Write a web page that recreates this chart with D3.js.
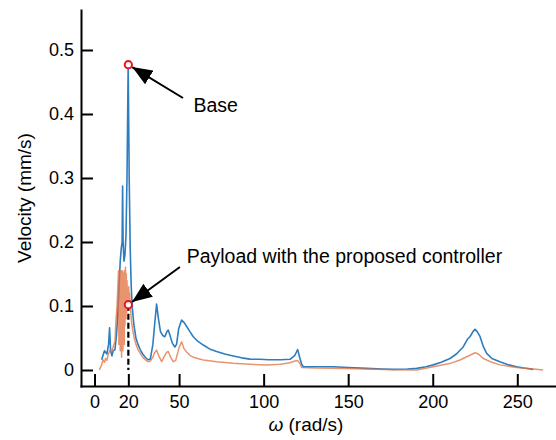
<html>
  <head>
    <title>Velocity spectrum</title>
    <meta charset="utf-8" />
    <script src="https://cdnjs.cloudflare.com/ajax/libs/d3/7.6.1/d3.min.js"></script>
    <style>
      body { margin: 0; background: #fff; }
      svg { font-family: "Liberation Sans", Arial, Helvetica, sans-serif; }
    </style>
  </head>
  <body>
    <svg width="556" height="440"></svg>
  </body>

  <script>
    // Base (blue)
    let omegaBase = [4.2, 5.9, 7.3, 8.3, 8.9, 9.5, 10.3, 11.0, 12.1, 13.0, 13.8, 14.5, 15.2, 15.8, 16.3, 16.6, 16.9,
      17.4, 18.0, 18.6, 19.2, 19.9, 20.5, 21.1, 21.7, 22.4, 23.3, 24.5, 25.7, 27.0, 28.5, 30.0, 31.5, 33.0, 34.5,
      35.5, 36.7, 37.8, 39.0, 40.3, 41.6, 42.8, 43.6, 44.5, 46.0, 47.5, 48.5, 49.8, 51.5, 53.0, 54.5, 56.4, 58.4,
      61, 64.3, 68, 72.2, 77, 82, 87, 91.9, 97.8, 103, 110, 115.6, 118.5, 120.1, 121.3, 122.5, 123.5, 130, 141.2,
      150, 160.9, 170, 176.6, 185, 190.5, 196, 200.3, 205, 210.2, 214, 218, 220.5, 222, 223.8, 225, 226.3, 228,
      230, 231.9, 235, 239.7, 245, 249.6, 254, 259.4];
    let velBase = [0.016, 0.030, 0.025, 0.040, 0.066, 0.030, 0.022, 0.030, 0.032, 0.055, 0.09, 0.13, 0.17, 0.19, 0.2,
      0.2875, 0.2, 0.17, 0.18, 0.21, 0.30, 0.477, 0.30, 0.19, 0.13, 0.095, 0.07, 0.05, 0.04, 0.032, 0.025, 0.02,
      0.016, 0.017, 0.04, 0.07, 0.103, 0.08, 0.06, 0.054, 0.052, 0.06, 0.0625, 0.055, 0.042, 0.036, 0.04, 0.065,
      0.078, 0.074, 0.068, 0.06, 0.052, 0.045, 0.039, 0.033, 0.029, 0.025, 0.022, 0.019, 0.017, 0.0167, 0.016,
      0.016, 0.0167, 0.023, 0.032, 0.02, 0.009, 0.005, 0.005, 0.005, 0.004, 0.0026, 0.0015, 0.001, 0.0015, 0.0026,
      0.005, 0.008, 0.012, 0.018, 0.025, 0.036, 0.048, 0.052, 0.06, 0.0635, 0.06, 0.052, 0.036, 0.026, 0.018,
      0.013, 0.008, 0.005, 0.003, 0.001];

    // Payload with the proposed controller (orange)
    let omegaPayload = [2.8, 4.2, 5.0, 5.9, 6.5, 7.3, 8.2, 9.1, 10.0, 10.9, 12.1, 12.7, 13.3, 13.8, 14.2, 14.4, 14.6,
      14.8, 15.0, 15.2, 15.4, 15.6, 15.8, 16.0, 16.2, 16.4, 16.6, 16.8, 17.0, 17.2, 17.4, 17.6, 17.8, 18.0, 18.3,
      18.6, 18.8, 19.0, 19.2, 19.5, 19.9, 20.2, 20.5, 20.8, 21.2, 21.7, 22.4, 23.3, 24.5, 25.7, 27, 28.5, 30, 31.5,
      33, 34.5, 35.5, 36.7, 38, 39.7, 41, 42.5, 43.6, 45, 46.5, 48, 50, 51.5, 53, 54.5, 56.4, 58.4, 61, 64.3, 72.2,
      82, 91.9, 101.8, 110, 115.6, 118.5, 120.1, 121.5, 122.5, 130, 141.2, 160.9, 176.6, 190.5, 200.3, 210, 216.1,
      222, 225, 227, 229.9, 235, 239.7, 249.6, 259.4, 265.3];
    let velPayload = [0.0, 0.008, 0.016, 0.012, 0.018, 0.015, 0.025, 0.031, 0.028, 0.035, 0.045, 0.078, 0.10, 0.13,
      0.155, 0.04, 0.15, 0.05, 0.155, 0.03, 0.152, 0.06, 0.155, 0.02, 0.15, 0.05, 0.155, 0.03, 0.15, 0.06, 0.152,
      0.04, 0.155, 0.07, 0.161, 0.08, 0.15, 0.09, 0.14, 0.10, 0.102, 0.13, 0.11, 0.12, 0.10, 0.08, 0.065, 0.052,
      0.04, 0.032, 0.026, 0.02, 0.016, 0.013, 0.014, 0.02, 0.027, 0.031, 0.022, 0.013, 0.02, 0.027, 0.029, 0.02,
      0.013, 0.015, 0.035, 0.044, 0.033, 0.028, 0.023, 0.02, 0.018, 0.0156, 0.013, 0.0104, 0.009, 0.0078, 0.009,
      0.0114, 0.014, 0.015, 0.01, 0.004, 0.003, 0.0026, 0.0015, 0.0005, 0.0, 0.005, 0.01, 0.0156, 0.023, 0.027,
      0.025, 0.018, 0.012, 0.008, 0.004, 0.0016, 0.0];

    let xTicks = [0, 20, 50, 100, 150, 200, 250];
    let yTicks = [0, 0.1, 0.2, 0.3, 0.4, 0.5];

    // annotations: marked point, arrow tail and label position (data units)
    let noteLabels = ["Base", "Payload with the proposed controller"];
    let noteOmega = [20, 20];
    let noteVel = [0.477, 0.102];
    let tailOmega = [52.3, 50.5];
    let tailVel = [0.425, 0.161];
    let textOmega = [58.5, 54.5];
    let textVel = [0.4036, 0.1667];

    let svg = d3.select("svg");
    let xScale = d3.scaleLinear().domain([-8, 272.3]).range([81, 555]);
    let yScale = d3.scaleLinear().domain([-0.025, 0.5625]).range([386, 10]);

    svg.append("defs").append("marker")
      .attr("id", "head")
      .attr("viewBox", "0 0 20 16")
      .attr("refX", 20).attr("refY", 8)
      .attr("markerWidth", 20).attr("markerHeight", 16)
      .attr("markerUnits", "userSpaceOnUse")
      .attr("orient", "auto")
      .append("path").attr("d", "M0,0L20,8L0,16Z").attr("fill", "black");

    let line = d3.line().x((d) => xScale(d[0])).y((d) => yScale(d[1]));

    svg.append("path")
      .datum(d3.zip(omegaBase, velBase))
      .attr("d", line)
      .attr("fill", "none")
      .attr("stroke", "#2d7dbf")
      .attr("stroke-width", 1.6)
      .attr("stroke-linejoin", "round");

    svg.append("path")
      .datum(d3.zip(omegaPayload, velPayload))
      .attr("d", line)
      .attr("fill", "none")
      .attr("stroke", "#e2703d")
      .attr("stroke-opacity", 0.75)
      .attr("stroke-width", 1.5)
      .attr("stroke-linejoin", "round");

    // dashed drop line at the payload point
    svg.append("line")
      .attr("x1", xScale(noteOmega[1])).attr("x2", xScale(noteOmega[1]))
      .attr("y1", yScale(noteVel[1])).attr("y2", yScale(0))
      .attr("stroke", "black")
      .attr("stroke-width", 2.2)
      .attr("stroke-dasharray", "6,3");

    let xAxis = d3.axisBottom(xScale).tickValues(xTicks).tickSizeInner(-12).tickSizeOuter(0).tickPadding(9);
    let yAxis = d3.axisLeft(yScale).tickValues(yTicks).tickSizeInner(-12).tickSizeOuter(0).tickPadding(7)
      .tickFormat((d) => (d === 0 ? "0" : d3.format(".1f")(d)));

    let gx = svg.append("g").attr("transform", `translate(0,${yScale.range()[0]})`).call(xAxis);
    let gy = svg.append("g").attr("transform", `translate(${xScale.range()[0]},0)`).call(yAxis);
    [gx, gy].forEach((g) => {
      g.select(".domain").attr("stroke-width", 2).attr("stroke-linecap", "square");
      g.selectAll(".tick line").attr("stroke-width", 2);
      g.selectAll(".tick text").attr("font-size", 18).attr("fill", "black")
        .attr("font-family", "'Liberation Sans', Arial, sans-serif");
    });

    // axis titles
    let xTitle = svg.append("text")
      .attr("x", xScale(125)).attr("y", 431)
      .attr("text-anchor", "middle").attr("font-size", 19);
    xTitle.append("tspan").attr("font-style", "italic").text("ω");
    xTitle.append("tspan").text(" (rad/s)");

    svg.append("text")
      .attr("transform", `translate(31,${(yScale.range()[0] + yScale.range()[1]) / 2}) rotate(-90)`)
      .attr("text-anchor", "middle").attr("font-size", 19)
      .text("Velocity (mm/s)");

    // arrows, markers, labels
    noteLabels.forEach((label, i) => {
      let px = xScale(noteOmega[i]), py = yScale(noteVel[i]);
      let tx = xScale(tailOmega[i]), ty = yScale(tailVel[i]);
      let len = Math.hypot(tx - px, ty - py);
      let ex = px + ((tx - px) / len) * 4.5, ey = py + ((ty - py) / len) * 4.5;
      svg.append("line")
        .attr("x1", tx).attr("y1", ty).attr("x2", ex).attr("y2", ey)
        .attr("stroke", "black").attr("stroke-width", 2)
        .attr("marker-end", "url(#head)");
      svg.append("circle")
        .attr("cx", px).attr("cy", py).attr("r", 3.6)
        .attr("fill", "white").attr("stroke", "#e8141c").attr("stroke-width", 2);
      svg.append("text")
        .attr("x", xScale(textOmega[i])).attr("y", yScale(textVel[i]))
        .attr("font-size", 19.5).text(label);
    });
  </script>
</html>
